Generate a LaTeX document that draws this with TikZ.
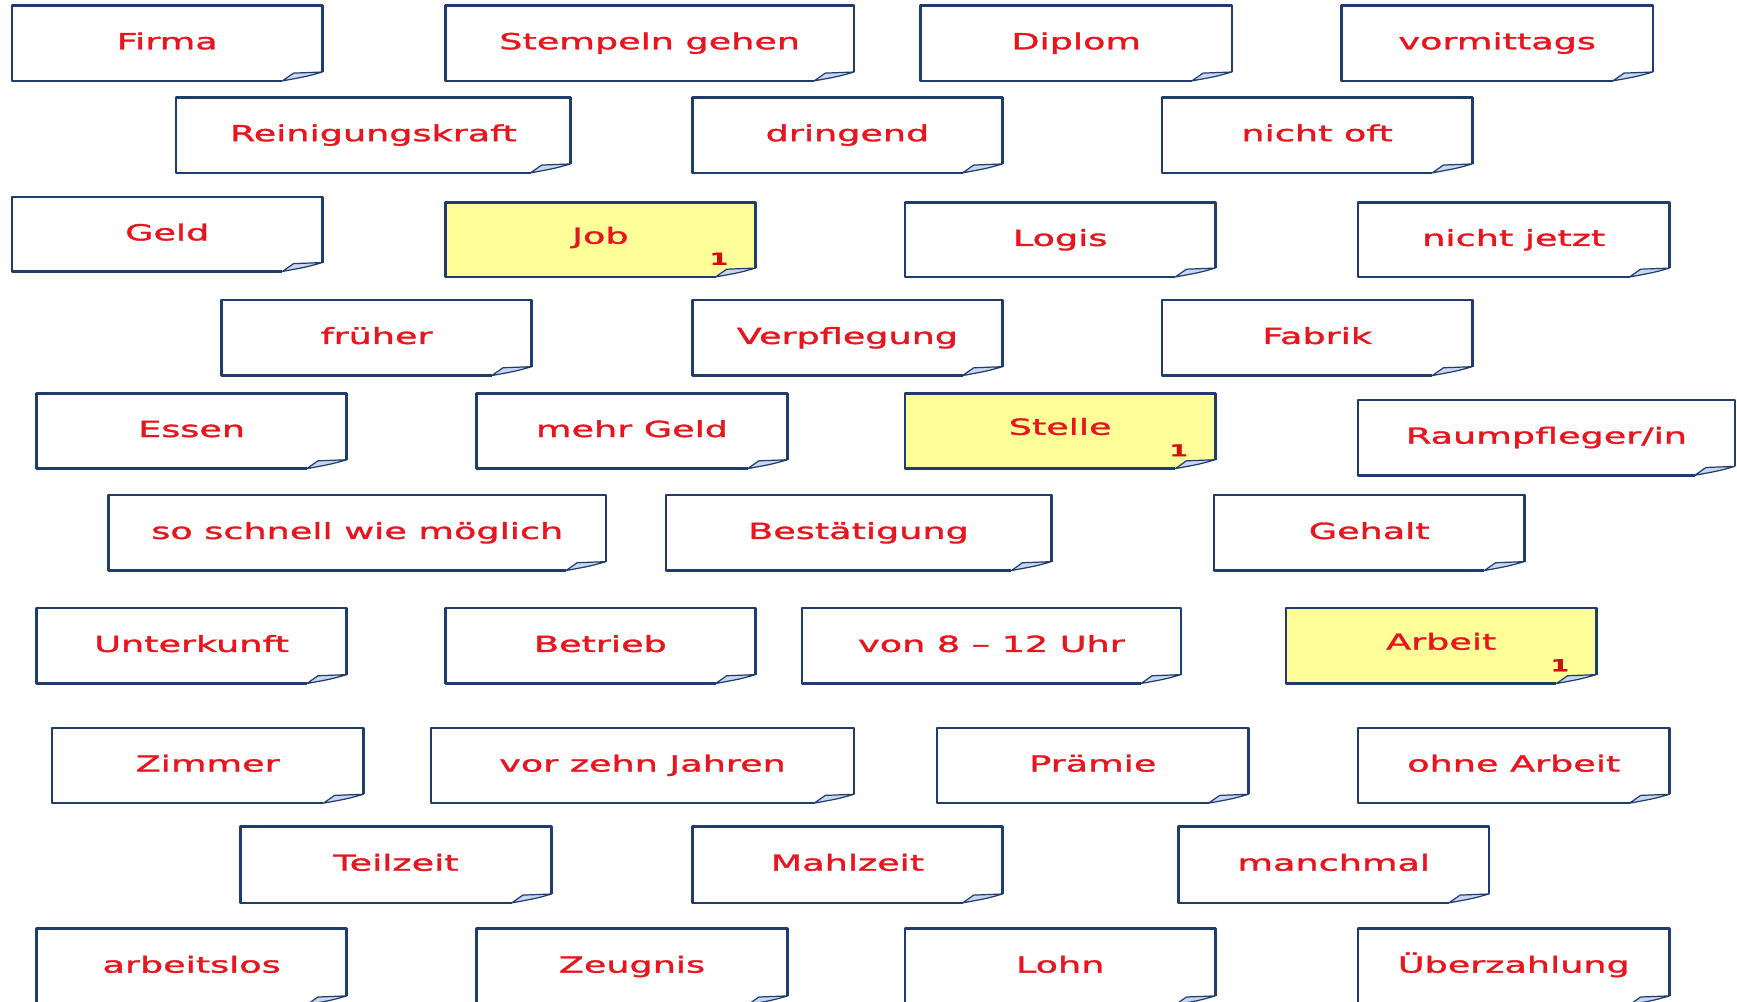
\documentclass[tikz,border=0pt]{standalone}
\usepackage{fontspec}
\newfontfamily\cardfont[FakeStretch=1.65,FakeBold=1.5]{DejaVu Sans}
\newfontfamily\numfont[FakeStretch=1.6,FakeBold=1]{DejaVu Sans Bold}
\definecolor{cardnavy}{HTML}{1F3C6E}
\definecolor{cardred}{HTML}{E8141E}
\definecolor{cardyellow}{HTML}{FFFF99}
\definecolor{curlblue}{HTML}{C9D7F0}
\definecolor{numred}{HTML}{D01010}
\tikzset{
  cardline/.style={draw=cardnavy, line width=2.3pt, line join=round},
  curlline/.style={draw=cardnavy, line width=1.1pt, fill=curlblue, line join=round},
  cardtext/.style={text=cardred, font=\cardfont\fontsize{20}{22}\selectfont, inner sep=0pt, anchor=base},
  cardnum/.style={text=numred, font=\numfont\fontsize{15}{16}\selectfont, inner sep=0pt, anchor=base}
}
% #1 fill, #2 name, #3 x1, #4 y1, #5 x2, #6 y2, #7 text, #8 baseline offset
\newcommand\cardbox[8]{%
  \fill[#1] (#3,#4) -- (#5,#4) -- (#5,{#6-8}) -- ({#5-36},#6) -- (#3,#6) -- cycle;
  \draw[cardline] ({#5-36},#6) -- (#3,#6) -- (#3,#4) -- (#5,#4) -- (#5,{#6-8});
  \draw[curlline] ({#5-36},#6) -- ({#5-26},{#6-7}) -- (#5,{#6-8}) .. controls ({#5-14},{#6-4}) .. ({#5-36},#6) -- cycle;
  \node[cardtext] (#2) at ({(#3+#5)/2},{(#4+#6)/2+#8}) {#7};
}
\newcommand\card[6]{\cardbox{white}{#1}{#2}{#3}{#4}{#5}{#6}{5.5}}
\newcommand\ycard[6]{\cardbox{cardyellow}{#1}{#2}{#3}{#4}{#5}{#6}{3.5}%
  \node[cardnum] (#1num) at ({#4-33},{#5-11}) {1};}
\begin{document}
\begin{tikzpicture}[x=1pt,y=-1pt]
\useasboundingbox (0,0) rectangle (1568,904);
\clip (0,0) rectangle (1568,904);
\fill[white] (0,0) rectangle (1568,904);
% row 1
\card{firma}{11}{5}{291}{73}{Firma}
\card{stempeln}{402}{5}{771}{73}{Stempeln gehen}
\card{diplom}{831}{5}{1112}{73}{Diplom}
\card{vormittags}{1211}{5}{1492}{73}{vormittags}
% row 2
\card{reinigung}{159}{88}{515}{156}{Reinigungskraft}
\card{dringend}{625}{88}{905}{156}{dringend}
\card{nichtoft}{1049}{88}{1329}{156}{nicht oft}
% row 3
\card{geld}{11}{178}{291}{245}{Geld}
\ycard{job}{402}{183}{682}{250}{Job}
\card{logis}{817}{183}{1097}{250}{Logis}
\card{nichtjetzt}{1226}{183}{1507}{250}{nicht jetzt}
% row 4
\card{frueher}{200}{271}{480}{339}{früher}
\card{verpflegung}{625}{271}{905}{339}{Verpflegung}
\card{fabrik}{1049}{271}{1329}{339}{Fabrik}
% row 5
\card{essen}{33}{355}{313}{423}{Essen}
\card{mehrgeld}{430}{355}{711}{423}{mehr Geld}
\ycard{stelle}{817}{355}{1097}{423}{Stelle}
\card{raumpfleger}{1226}{361}{1566}{429}{Raumpfleger/in}
% row 6
\card{soschnell}{98}{447}{547}{515}{so schnell wie möglich}
\card{bestaetigung}{601}{447}{949}{515}{Bestätigung}
\card{gehalt}{1096}{447}{1376}{515}{Gehalt}
% row 7
\card{unterkunft}{33}{549}{313}{617}{Unterkunft}
\card{betrieb}{402}{549}{682}{617}{Betrieb}
\card{vonacht}{724}{549}{1066}{617}{von 8 – 12 Uhr}
\ycard{arbeit}{1161}{549}{1441}{617}{Arbeit}
% row 8
\card{zimmer}{47}{657}{328}{725}{Zimmer}
\card{vorzehn}{389}{657}{771}{725}{vor zehn Jahren}
\card{praemie}{846}{657}{1127}{725}{Prämie}
\card{ohnearbeit}{1226}{657}{1507}{725}{ohne Arbeit}
% row 9
\card{teilzeit}{217}{746}{498}{815}{Teilzeit}
\card{mahlzeit}{625}{746}{905}{815}{Mahlzeit}
\card{manchmal}{1064}{746}{1344}{815}{manchmal}
% row 10
\card{arbeitslos}{33}{838}{313}{907}{arbeitslos}
\card{zeugnis}{430}{838}{711}{907}{Zeugnis}
\card{lohn}{817}{838}{1097}{907}{Lohn}
\card{ueberzahlung}{1226}{838}{1507}{907}{Überzahlung}
\end{tikzpicture}
\end{document}
